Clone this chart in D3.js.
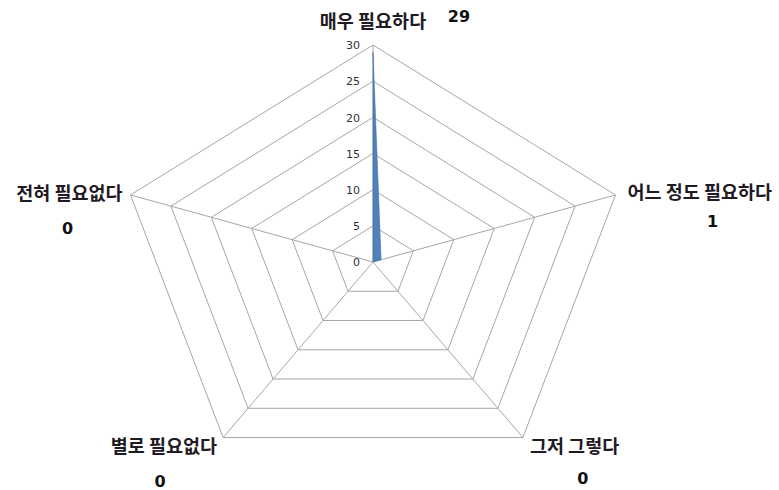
<!DOCTYPE html>
<html>
<head>
<meta charset="utf-8">
<script src="https://cdn.jsdelivr.net/npm/d3@7"></script>
<style>
  body { margin: 0; background: #fff; }
  .cat-label { font-family: "Noto Sans CJK KR", sans-serif; font-size: 18.5px; font-weight: bold; fill: #1f1a24; }
  .val-label { font-family: "DejaVu Sans", sans-serif; font-size: 16px; font-weight: bold; fill: #111; }
  .tick-label { font-family: "DejaVu Sans", sans-serif; font-size: 11px; fill: #333; }
</style>
</head>
<body>
<svg id="chart"></svg>
<script>
// Chart data
const categories = ['매우 필요하다', '어느 정도 필요하다', '그저 그렇다', '별로 필요없다', '전혀 필요없다'];
const values = [29, 1, 0, 0, 0];
const tickValues = [0, 5, 10, 15, 20, 25, 30];

const config = {
  width: 779,
  height: 490,
  cx: 373,
  cy: 262,
  rx: 255,   // horizontal radius (reference is stretched sideways)
  ry: 217
};

const svg = d3.select('#chart')
  .attr('width', config.width)
  .attr('height', config.height);

// Radial scale: value -> fraction of the full radius
const rScale = d3.scaleLinear()
  .domain([0, 30])
  .range([0, 1]);

const angleStep = 2 * Math.PI / categories.length;

// Point on axis i at value v
function point(i, v) {
  const a = i * angleStep;
  const f = rScale(v);
  return [config.cx + config.rx * f * Math.sin(a), config.cy - config.ry * f * Math.cos(a)];
}

const grid = svg.append('g').attr('class', 'grid');

// Concentric pentagons
tickValues.filter(t => t > 0).forEach(t => {
  grid.append('polygon')
    .attr('points', categories.map((c, i) => point(i, t).join(',')).join(' '))
    .attr('fill', 'none')
    .attr('stroke', '#a6a6a6')
    .attr('stroke-width', 1);
});

// Spokes
categories.forEach((c, i) => {
  const [x, y] = point(i, 30);
  grid.append('line')
    .attr('x1', config.cx).attr('y1', config.cy)
    .attr('x2', x).attr('y2', y)
    .attr('stroke', '#a6a6a6')
    .attr('stroke-width', 1);
});

// Tick labels along the top axis
svg.append('g').selectAll('text')
  .data(tickValues)
  .join('text')
  .attr('class', 'tick-label')
  .attr('x', d => point(0, d)[0] - 13)
  .attr('y', d => point(0, d)[1])
  .attr('dy', '0.38em')
  .attr('text-anchor', 'end')
  .text(d => d);

// Filled series area
svg.append('polygon')
  .attr('points', values.map((v, i) => point(i, v).join(',')).join(' '))
  .attr('fill', '#4f81bd')
  .attr('stroke', '#3f70aa')
  .attr('stroke-width', 0.6);

// Label placement relative to each outer vertex
const labelLayout = [
  { dx: 0, dy: -17, anchor: 'middle', vdx: 86, vdy: -23 },
  { dx: 12, dy: 4, anchor: 'start', vdx: 97, vdy: 32 },
  { dx: 7, dy: 15, anchor: 'start', vdx: 60, vdy: 46 },
  { dx: -6, dy: 15, anchor: 'end', vdx: -63, vdy: 49 },
  { dx: -8, dy: 5, anchor: 'end', vdx: -63, vdy: 39 }
];

categories.forEach((c, i) => {
  const [x, y] = point(i, 30);
  const l = labelLayout[i];
  svg.append('text')
    .attr('class', 'cat-label')
    .attr('x', x + l.dx)
    .attr('y', y + l.dy)
    .attr('text-anchor', l.anchor)
    .text(c);
  svg.append('text')
    .attr('class', 'val-label')
    .attr('x', x + l.vdx)
    .attr('y', y + l.vdy)
    .attr('text-anchor', 'middle')
    .text(values[i]);
});
</script>
</body>
</html>
